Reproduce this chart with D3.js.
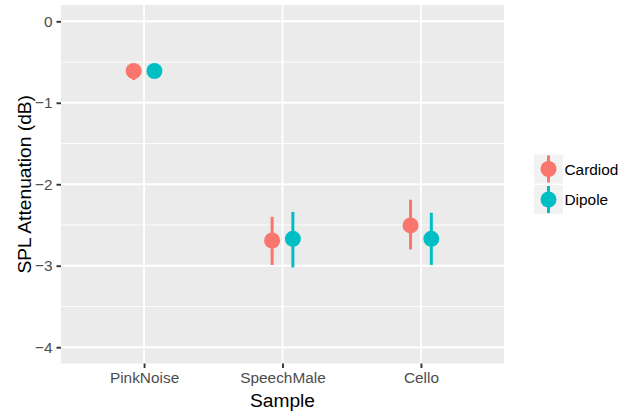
<!DOCTYPE html>
<meta charset="utf-8">
<script src="https://d3js.org/d3.v7.min.js"></script>
<style>
  body { margin: 0; background: #fff; }
  text { font-family: "Liberation Sans", Arial, sans-serif; }
</style>
<div id="chart"></div>
<script>
	// Data
	var samples = ["PinkNoise", "SpeechMale", "Cello"];
	var groups = ["Cardiod", "Dipole"];
	var colors = ["#F8766D", "#00BFC4"];
	var cardiod_mean = [-0.61, -2.69, -2.505];
	var cardiod_low = [-0.72, -2.99, -2.80];
	var cardiod_high = [-0.53, -2.40, -2.19];
	var dipole_mean = [-0.61, -2.67, -2.67];
	var dipole_low = [-0.67, -3.02, -2.99];
	var dipole_high = [-0.55, -2.34, -2.35];
	var y_ticks = [0, -1, -2, -3, -4];
	var y_minor = [-0.5, -1.5, -2.5, -3.5];

	var data = [];
	samples.forEach(function(s, i){
		data.push({sample: s, group: "Cardiod", mean: cardiod_mean[i], low: cardiod_low[i], high: cardiod_high[i]});
		data.push({sample: s, group: "Dipole", mean: dipole_mean[i], low: dipole_low[i], high: dipole_high[i]});
	});

	var W = 622, H = 412;
	var panel = {left: 61, right: 504, top: 5, bottom: 363.5};
	var grey_bg = "#EBEBEB";

	var svg = d3.select("#chart").append("svg")
		.attr("width", W).attr("height", H);

	// Scales
	var x = d3.scalePoint().domain(samples).range([panel.left, panel.right]).padding(0.6);
	var dodge = d3.scalePoint().domain(groups).range([-0.075, 0.075]);
	var y = d3.scaleLinear().domain([-4.2, 0.2]).range([panel.bottom, panel.top]);
	var color = d3.scaleOrdinal().domain(groups).range(colors);
	var px = function(d){ return x(d.sample) + dodge(d.group) * x.step(); };

	// Panel background
	svg.append("rect")
		.attr("x", panel.left).attr("y", panel.top)
		.attr("width", panel.right - panel.left)
		.attr("height", panel.bottom - panel.top)
		.attr("fill", grey_bg);

	// Grid lines
	svg.append("g").selectAll("line").data(y_minor).join("line")
		.attr("x1", panel.left).attr("x2", panel.right)
		.attr("y1", d => y(d)).attr("y2", d => y(d))
		.attr("stroke", "#fff").attr("stroke-width", 0.9);
	svg.append("g").selectAll("line").data(y_ticks).join("line")
		.attr("x1", panel.left).attr("x2", panel.right)
		.attr("y1", d => y(d)).attr("y2", d => y(d))
		.attr("stroke", "#fff").attr("stroke-width", 1.9);
	svg.append("g").selectAll("line").data(samples).join("line")
		.attr("x1", d => x(d)).attr("x2", d => x(d))
		.attr("y1", panel.top).attr("y2", panel.bottom)
		.attr("stroke", "#fff").attr("stroke-width", 1.9);

	// Axes
	var yAxis = svg.append("g")
		.attr("transform", "translate(" + panel.left + ",0)")
		.call(d3.axisLeft(y).tickValues(y_ticks).tickSize(4.5).tickPadding(4)
			.tickFormat(d => d === 0 ? "0" : "\u2212" + Math.abs(d)));
	var xAxis = svg.append("g")
		.attr("transform", "translate(0," + panel.bottom + ")")
		.call(d3.axisBottom(x).tickSize(4.5).tickPadding(4));
	[yAxis, xAxis].forEach(function(a){
		a.select(".domain").remove();
		a.selectAll(".tick line").attr("stroke", "#333").attr("stroke-width", 1.9);
		a.selectAll(".tick text").attr("fill", "#4D4D4D").style("font-size", "15.4px");
	});

	// Axis titles
	svg.append("text")
		.attr("x", (panel.left + panel.right) / 2).attr("y", 406.5)
		.attr("text-anchor", "middle")
		.style("font-size", "19.2px").attr("fill", "#000")
		.text("Sample");
	svg.append("text")
		.attr("transform", "translate(30.5," + ((panel.top + panel.bottom) / 2) + ") rotate(-90)")
		.attr("text-anchor", "middle")
		.style("font-size", "19.2px").attr("fill", "#000")
		.text("SPL Attenuation (dB)");

	// Error bars and points
	var marks = svg.append("g");
	marks.selectAll("line").data(data).join("line")
		.attr("x1", px).attr("x2", px)
		.attr("y1", d => y(d.low)).attr("y2", d => y(d.high))
		.attr("stroke", d => color(d.group)).attr("stroke-width", 3);
	marks.selectAll("circle").data(data).join("circle")
		.attr("cx", px).attr("cy", d => y(d.mean)).attr("r", 8)
		.attr("fill", d => color(d.group));

	// Legend
	var key_size = 29, key_gap = 1.5, key_x = 534;
	var key_top = (panel.top + panel.bottom) / 2 - key_size - key_gap / 2;
	var legend = svg.append("g").selectAll("g").data(groups).join("g")
		.attr("transform", (d, i) => "translate(" + key_x + "," + (key_top + i * (key_size + key_gap)) + ")");
	legend.append("rect")
		.attr("width", key_size).attr("height", key_size)
		.attr("fill", "#F2F2F2");
	legend.append("line")
		.attr("x1", key_size / 2).attr("x2", key_size / 2)
		.attr("y1", 1).attr("y2", key_size - 1)
		.attr("stroke", d => color(d)).attr("stroke-width", 3);
	legend.append("circle")
		.attr("cx", key_size / 2).attr("cy", key_size / 2).attr("r", 8)
		.attr("fill", d => color(d));
	legend.append("text")
		.attr("x", key_size + 1.5).attr("y", key_size / 2)
		.attr("dy", "0.36em")
		.style("font-size", "15.4px").attr("fill", "#000")
		.text(d => d);
</script>
